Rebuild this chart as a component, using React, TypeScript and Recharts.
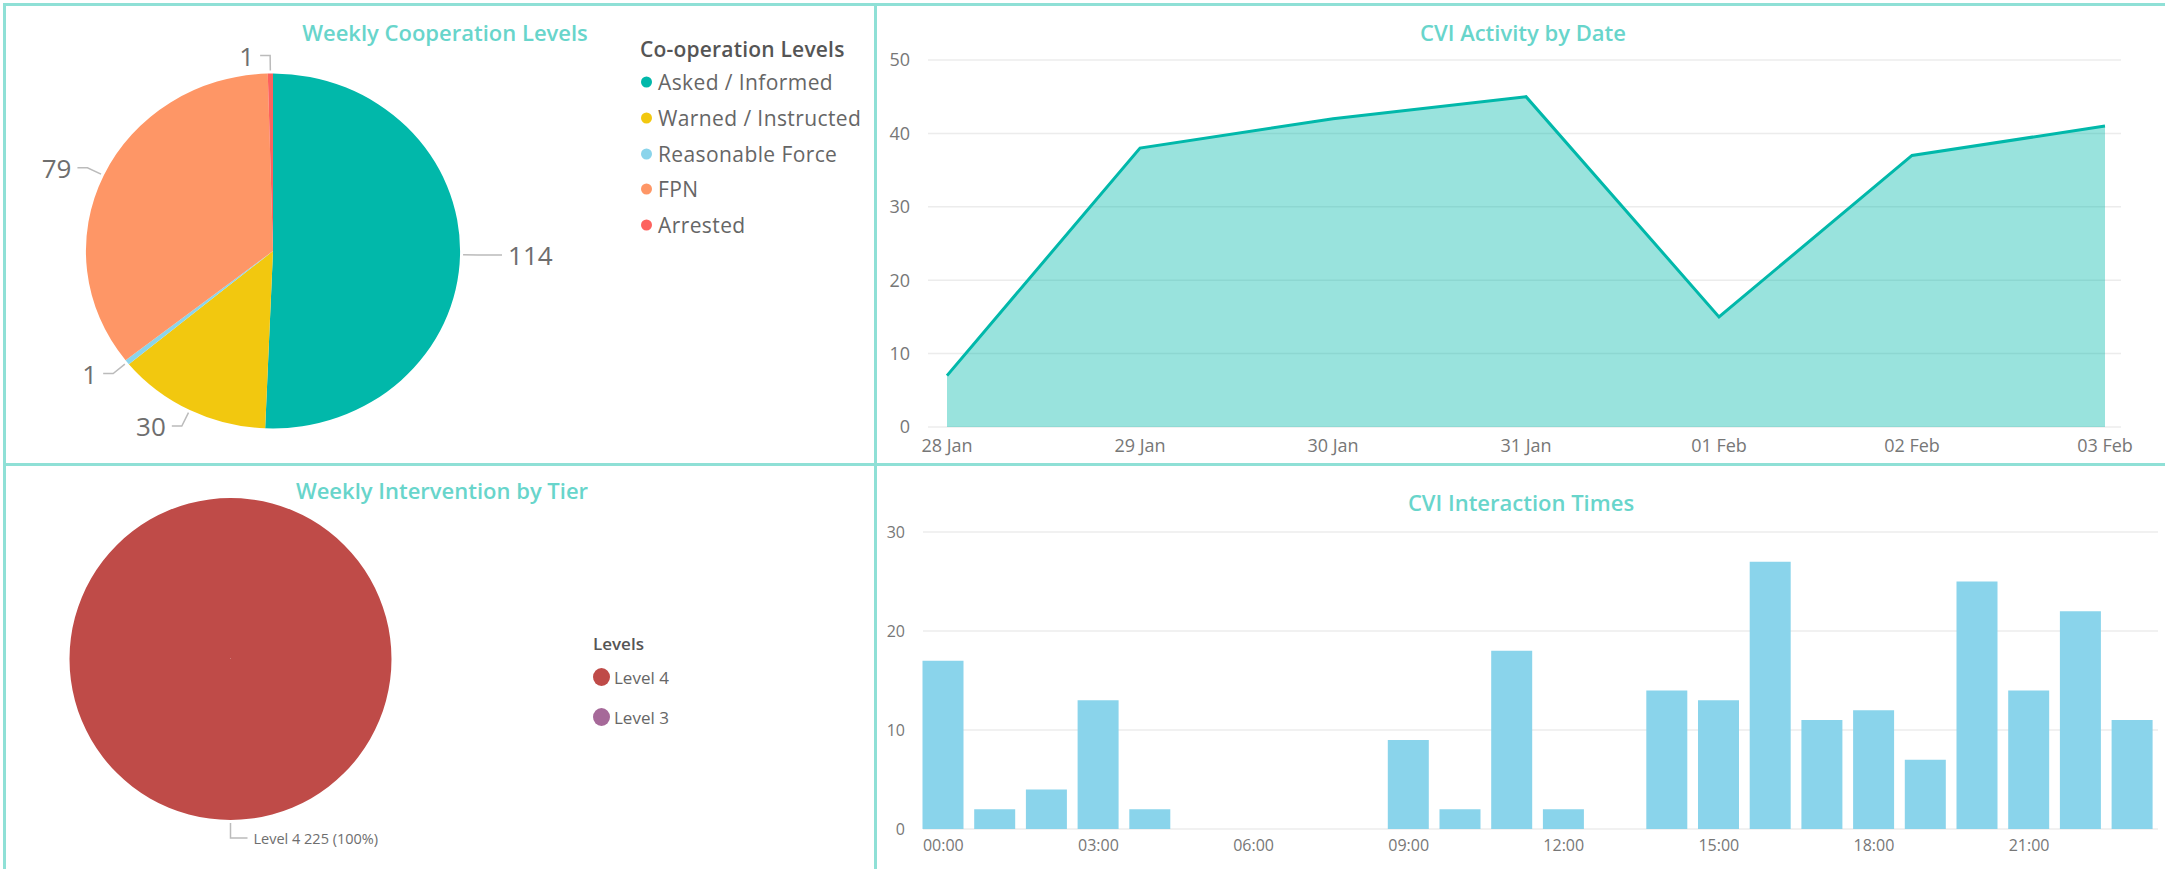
import { PieChart, Pie, Cell, AreaChart, Area, BarChart, Bar, XAxis, YAxis, CartesianGrid } from 'recharts'

const COOP_LEVELS = ['Asked / Informed', 'Warned / Instructed', 'Reasonable Force', 'FPN', 'Arrested']
const COOP_COUNTS = [114, 30, 1, 79, 1]
const COOP_COLORS = ['#01b8aa', '#f2c80f', '#8ad4eb', '#fe9666', '#fd625e']

const TIER_LEVELS = ['Level 4', 'Level 3']
const TIER_COUNTS = [225, 0]
const TIER_COLORS = ['#bf4b48', '#a66999']

const DATES = ['28 Jan', '29 Jan', '30 Jan', '31 Jan', '01 Feb', '02 Feb', '03 Feb']
const ACTIVITY = [7, 38, 42, 45, 15, 37, 41]
const ACTIVITY_TICKS = [0, 10, 20, 30, 40, 50]

const HOURS = [
  '00:00', '01:00', '02:00', '03:00', '04:00', '05:00', '06:00', '07:00',
  '08:00', '09:00', '10:00', '11:00', '12:00', '13:00', '14:00', '15:00',
  '16:00', '17:00', '18:00', '19:00', '20:00', '21:00', '22:00', '23:00',
]
const INTERACTIONS = [17, 2, 4, 13, 2, 0, 0, 0, 0, 9, 2, 18, 2, 0, 14, 13, 27, 11, 12, 7, 25, 14, 22, 11]
const INTERACTION_TICKS = [0, 10, 20, 30]

const TITLE_COLOR = '#68d5cb'
const BORDER = '#8fe0d6'
const AXIS_TEXT = '#777'
const RAD = Math.PI / 180
// the cooperation pie is a bit wider than tall in the original
const COOP_SX = 1.054
const COOP_CX = 273

const coopData = COOP_LEVELS.map((name, i) => ({ name, value: COOP_COUNTS[i] }))
const tierData = TIER_LEVELS.map((name, i) => ({ name, value: TIER_COUNTS[i] }))
const activityData = DATES.map((date, i) => ({ date, count: ACTIVITY[i] }))
const hourData = HOURS.map((hour, i) => ({ hour, count: INTERACTIONS[i] }))

// power bi style leader line: short radial piece, then horizontal piece, then text
function leaderLabel(fontSize: number, horizLeft: number, horizRight: number, sx: number, format: (p: any) => string) {
  return (props: any) => {
    const { cx, cy, midAngle, outerRadius, value } = props
    if (!value) return null
    const cos = Math.cos(-midAngle * RAD)
    const sin = Math.sin(-midAngle * RAD)
    const ex = cx + outerRadius * cos * sx
    const ey = cy + outerRadius * sin
    const x1 = ex + 3 * cos
    const y1 = ey + 3 * sin
    const x2 = ex + 18 * cos
    const y2 = ey + 18 * sin
    const right = cos > -0.005
    const x3 = x2 + (right ? horizRight : -horizLeft)
    return (
      <g>
        <polyline points={`${x1},${y1} ${x2},${y2} ${x3},${y2}`} fill="none" stroke="#bbb" strokeWidth={1.5} />
        <text
          x={x3 + (right ? 6 : -6)}
          y={y2}
          textAnchor={right ? 'start' : 'end'}
          dominantBaseline="central"
          fontSize={fontSize}
          fill="#6e6e6e"
        >
          {format(props)}
        </text>
      </g>
    )
  }
}

function Title({ text, x, y }: { text: string; x: number; y: number }) {
  return (
    <div
      style={{
        position: 'absolute', left: x, top: y, transform: 'translate(-50%, -50%)',
        color: TITLE_COLOR, fontSize: 22, fontWeight: 600, whiteSpace: 'nowrap', lineHeight: 1,
      }}
    >
      {text}
    </div>
  )
}

function Line({ left, top, width, height }: { left: number; top: number; width: number; height: number }) {
  return <div style={{ position: 'absolute', left, top, width, height, background: BORDER }} />
}

export default function App() {
  return (
    <div style={{ position: 'relative', width: 2165, height: 869, background: '#fff', fontFamily: '"Open Sans", sans-serif', overflow: 'hidden' }}>
      <style>{'body{margin:0}'}</style>

      {/* frame */}
      <Line left={3} top={3} width={2162} height={3} />
      <Line left={3} top={3} width={3} height={866} />
      <Line left={874} top={3} width={3} height={866} />
      <Line left={3} top={463} width={2162} height={3} />

      {/* Weekly Cooperation Levels: slices stretched sideways, labels drawn unstretched on top */}
      <div style={{ position: 'absolute', left: 0, top: 0, transform: `scaleX(${COOP_SX})`, transformOrigin: `${COOP_CX}px 0` }}>
        <PieChart width={874} height={463} margin={{ top: 0, right: 0, bottom: 0, left: 0 }}>
          <Pie
            data={coopData}
            dataKey="value"
            nameKey="name"
            cx={COOP_CX}
            cy={251}
            outerRadius={177.5}
            startAngle={90}
            endAngle={-270}
            stroke="none"
            isAnimationActive={false}
          >
            {coopData.map((d, i) => (
              <Cell key={d.name} fill={COOP_COLORS[i]} />
            ))}
          </Pie>
        </PieChart>
      </div>
      <div style={{ position: 'absolute', left: 0, top: 0 }}>
        <PieChart width={874} height={463} margin={{ top: 0, right: 0, bottom: 0, left: 0 }}>
          <Pie
            data={coopData}
            dataKey="value"
            nameKey="name"
            cx={COOP_CX}
            cy={251}
            outerRadius={177.5}
            startAngle={90}
            endAngle={-270}
            fill="none"
            stroke="none"
            labelLine={false}
            label={leaderLabel(26, 10, 24, COOP_SX, (p) => String(p.value))}
            isAnimationActive={false}
          />
        </PieChart>
      </div>
      <Title text="Weekly Cooperation Levels" x={445} y={32} />
      <div style={{ position: 'absolute', left: 640, top: 49, transform: 'translateY(-50%)', fontSize: 21, fontWeight: 600, color: '#555', whiteSpace: 'nowrap', lineHeight: 1, letterSpacing: 0.2 }}>
        Co-operation Levels
      </div>
      {COOP_LEVELS.map((name, i) => (
        <div key={name} style={{ position: 'absolute', left: 641, top: 82 + i * 35.8, transform: 'translateY(-50%)', display: 'flex', alignItems: 'center', whiteSpace: 'nowrap' }}>
          <span style={{ width: 11, height: 11, borderRadius: '50%', background: COOP_COLORS[i], marginRight: 6 }} />
          <span style={{ fontSize: 21, color: '#666', lineHeight: 1, letterSpacing: 0.4 }}>{name}</span>
        </div>
      ))}

      {/* CVI Activity by Date */}
      <div style={{ position: 'absolute', left: 877, top: 0 }}>
        <AreaChart width={1288} height={463} data={activityData} margin={{ top: 60, right: 44, bottom: 0, left: 0 }}>
          <CartesianGrid vertical={false} stroke="#ececec" strokeWidth={1.5} />
          <XAxis
            dataKey="date"
            axisLine={false}
            tickLine={false}
            interval={0}
            height={36}
            tickMargin={6}
            padding={{ left: 19, right: 16 }}
            tick={{ fill: AXIS_TEXT, fontSize: 18 }}
          />
          <YAxis
            domain={[0, 50]}
            ticks={ACTIVITY_TICKS}
            axisLine={false}
            tickLine={false}
            width={51}
            tickMargin={12}
            tick={{ fill: AXIS_TEXT, fontSize: 18 }}
          />
          <Area
            type="linear"
            dataKey="count"
            stroke="#01b8aa"
            strokeWidth={3}
            fill="#01b8aa"
            fillOpacity={0.4}
            dot={false}
            activeDot={false}
            isAnimationActive={false}
          />
        </AreaChart>
      </div>
      <Title text="CVI Activity by Date" x={1523} y={32} />

      {/* Weekly Intervention by Tier */}
      <div style={{ position: 'absolute', left: 0, top: 465 }}>
        <PieChart width={874} height={404} margin={{ top: 0, right: 0, bottom: 0, left: 0 }}>
          <Pie
            data={tierData}
            dataKey="value"
            nameKey="name"
            cx={230.5}
            cy={194}
            outerRadius={161}
            startAngle={90}
            endAngle={-270}
            stroke="none"
            labelLine={false}
            label={leaderLabel(14.5, 17, 17, 1, (p) => `${p.name} ${p.value} (${Math.round(p.percent * 100)}%)`)}
            isAnimationActive={false}
          >
            {tierData.map((d, i) => (
              <Cell key={d.name} fill={TIER_COLORS[i]} />
            ))}
          </Pie>
        </PieChart>
      </div>
      <Title text="Weekly Intervention by Tier" x={442} y={490} />
      <div style={{ position: 'absolute', left: 593, top: 643, transform: 'translateY(-50%)', fontSize: 17, fontWeight: 600, color: '#555', lineHeight: 1 }}>
        Levels
      </div>
      {TIER_LEVELS.map((name, i) => (
        <div key={name} style={{ position: 'absolute', left: 593, top: 677 + i * 40, transform: 'translateY(-50%)', display: 'flex', alignItems: 'center', whiteSpace: 'nowrap' }}>
          <span style={{ width: 17, height: 18, borderRadius: '50%', background: TIER_COLORS[i], marginRight: 4 }} />
          <span style={{ fontSize: 17, color: '#666', lineHeight: 1 }}>{name}</span>
        </div>
      ))}

      {/* CVI Interaction Times */}
      <div style={{ position: 'absolute', left: 877, top: 465 }}>
        <BarChart width={1288} height={404} data={hourData} margin={{ top: 67, right: 6.7, bottom: 0, left: 0 }} barCategoryGap={0}>
          <CartesianGrid vertical={false} stroke="#ececec" strokeWidth={1.5} x={46} width={1235} />
          <XAxis
            dataKey="hour"
            axisLine={false}
            tickLine={false}
            interval={2}
            height={40}
            tickMargin={4.5}
            tick={{ fill: AXIS_TEXT, fontSize: 16 }}
          />
          <YAxis
            domain={[0, 30]}
            ticks={INTERACTION_TICKS}
            axisLine={false}
            tickLine={false}
            width={40.5}
            tickMargin={6.5}
            tick={{ fill: AXIS_TEXT, fontSize: 16 }}
          />
          <Bar dataKey="count" fill="#8ad4eb" barSize={41} isAnimationActive={false} />
        </BarChart>
      </div>
      <Title text="CVI Interaction Times" x={1521} y={502} />
    </div>
  )
}
